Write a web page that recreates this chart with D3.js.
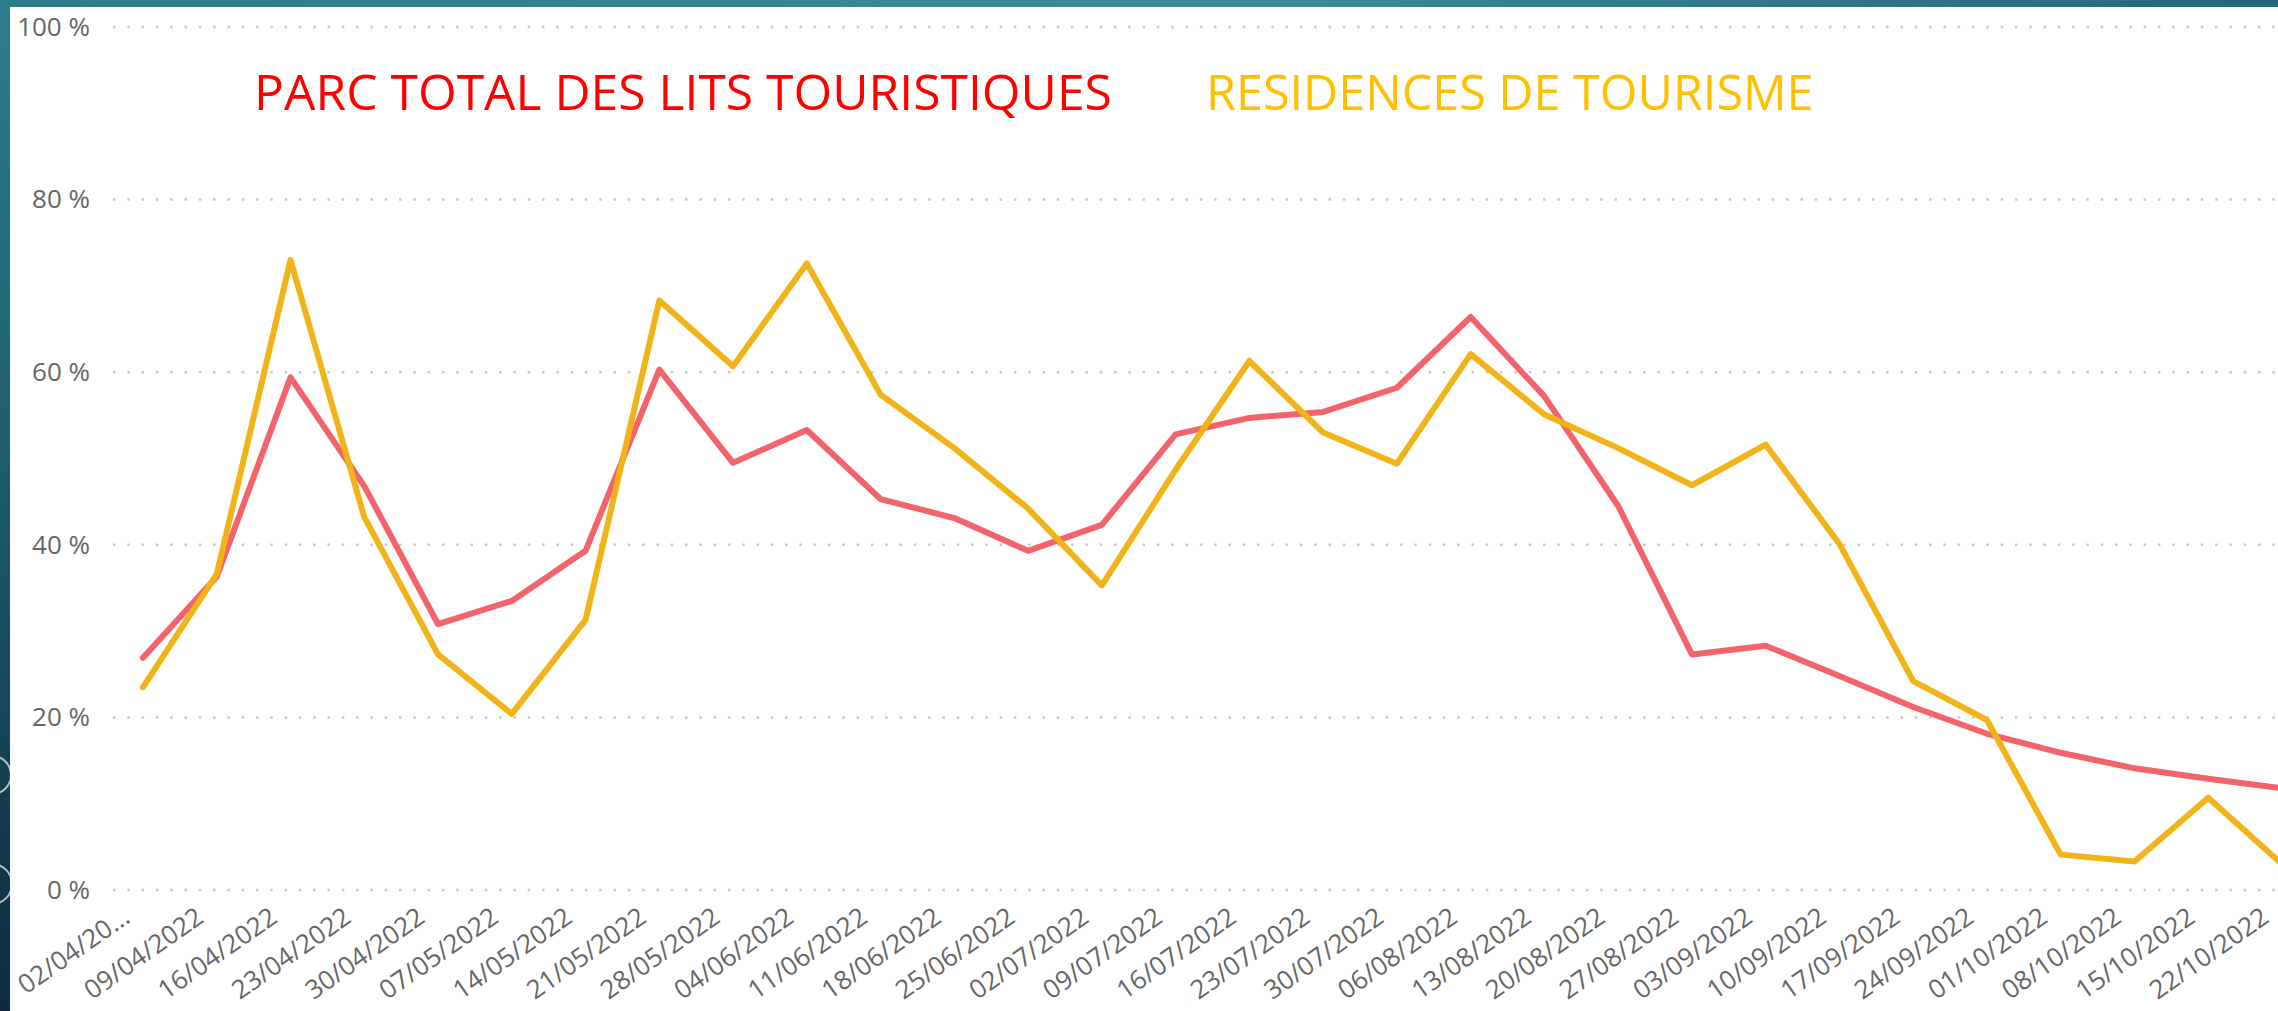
<!DOCTYPE html>
<html>
<head>
<meta charset="utf-8">
<script src="https://cdn.jsdelivr.net/npm/d3@7"></script>
<style>
  body { margin: 0; overflow: hidden; background: #fff; }
  text { font-family: "Open Sans", "Noto Sans", sans-serif; }
</style>
</head>
<body>
<script>
var dates = ["02/04/2022", "09/04/2022", "16/04/2022", "23/04/2022", "30/04/2022",
    "07/05/2022", "14/05/2022", "21/05/2022", "28/05/2022", "04/06/2022",
    "11/06/2022", "18/06/2022", "25/06/2022", "02/07/2022", "09/07/2022",
    "16/07/2022", "23/07/2022", "30/07/2022", "06/08/2022", "13/08/2022",
    "20/08/2022", "27/08/2022", "03/09/2022", "10/09/2022", "17/09/2022",
    "24/09/2022", "01/10/2022", "08/10/2022", "15/10/2022", "22/10/2022"];

// % of beds occupied
var parcTotal = [26.9, 36.3, 59.4, 46.8, 30.8, 33.5, 39.3, 60.3, 49.5, 53.3,
    45.3, 43.1, 39.3, 42.3, 52.8, 54.7, 55.4, 58.2, 66.4, 57.2,
    44.5, 27.3, 28.3, 24.8, 21.2, 18.1, 15.9, 14.1, 12.9, 11.8];

var residences = [23.5, 36.6, 73.0, 43.2, 27.3, 20.4, 31.3, 68.3, 60.7, 72.6,
    57.4, 51.2, 44.2, 35.3, 48.7, 61.3, 53.0, 49.4, 62.1, 55.1,
    51.2, 46.9, 51.6, 40.1, 24.2, 19.7, 4.1, 3.3, 10.7, 3.0];

var yTicks = [0, 20, 40, 60, 80, 100];

var seriesNames = ["PARC TOTAL DES LITS TOURISTIQUES", "RESIDENCES DE TOURISME"];

var width = 2278,
    height = 1011;

var svg = d3.select("body").append("svg")
    .attr("width", width)
    .attr("height", height);

// frame: teal strips on the left and top
var defs = svg.append("defs");
var gLeft = defs.append("linearGradient").attr("id", "gLeft")
    .attr("x1", 0).attr("y1", 0).attr("x2", 0).attr("y2", 1);
gLeft.append("stop").attr("offset", "0%").attr("stop-color", "#2b7f8b");
gLeft.append("stop").attr("offset", "45%").attr("stop-color", "#1d5e6c");
gLeft.append("stop").attr("offset", "100%").attr("stop-color", "#0e2a3e");
var gTop = defs.append("linearGradient").attr("id", "gTop")
    .attr("x1", 0).attr("y1", 0).attr("x2", 1).attr("y2", 0);
gTop.append("stop").attr("offset", "0%").attr("stop-color", "#2a7e8a");
gTop.append("stop").attr("offset", "55%").attr("stop-color", "#3a8b97");
gTop.append("stop").attr("offset", "100%").attr("stop-color", "#22687a");

svg.append("rect").attr("width", 10).attr("height", height).attr("fill", "url(#gLeft)");
svg.append("rect").attr("width", width).attr("height", 7).attr("fill", "url(#gTop)");
svg.append("circle").attr("cx", -8).attr("cy", 775).attr("r", 19)
    .attr("fill", "none").attr("stroke", "#b8bcc0").attr("stroke-width", 2);
svg.append("circle").attr("cx", -8).attr("cy", 884).attr("r", 20)
    .attr("fill", "none").attr("stroke", "#b8bcc0").attr("stroke-width", 2);
svg.append("rect").attr("x", 10).attr("y", 7)
    .attr("width", width - 10).attr("height", height - 7).attr("fill", "#fff");

var x = d3.scalePoint().domain(dates).range([143, 2282]);
var y = d3.scaleLinear().domain([0, 100]).range([890, 27]);

// grid
svg.append("g").selectAll("line")
    .data(yTicks)
    .enter().append("line")
    .attr("x1", 113).attr("x2", width)
    .attr("y1", function (d) { return y(d); })
    .attr("y2", function (d) { return y(d); })
    .style("stroke", "#c8c8c8")
    .style("stroke-width", 2.5)
    .style("stroke-dasharray", "2.5 11.8");

// y axis
var yAxis = svg.append("g")
    .attr("transform", "translate(90,0)")
    .call(d3.axisLeft(y).tickValues(yTicks).tickSize(0).tickPadding(0)
        .tickFormat(function (d) { return d + " %"; }));
yAxis.select(".domain").remove();
yAxis.selectAll("text")
    .attr("fill", "#666")
    .attr("font-size", 26)
    .attr("font-family", "Open Sans");

// x axis
var xAxis = svg.append("g")
    .attr("transform", "translate(0,921)")
    .call(d3.axisBottom(x).tickSize(0).tickPadding(0)
        .tickFormat(function (d, i) { return i === 0 ? d.slice(0, 8) + "..." : d; }));
xAxis.select(".domain").remove();
xAxis.selectAll("text")
    .attr("fill", "#666")
    .attr("font-size", 26)
    .attr("font-family", "Open Sans")
    .attr("text-anchor", "end")
    .attr("dy", 0)
    .attr("y", 0)
    .attr("transform", "translate(-12,0) rotate(-35)");

// lines
var line = d3.line()
    .x(function (d, i) { return x(dates[i]); })
    .y(function (d) { return y(d); });

svg.append("path")
    .datum(parcTotal)
    .attr("d", line)
    .attr("fill", "none")
    .attr("stroke", "#f3636b")
    .attr("stroke-width", 6)
    .attr("stroke-linejoin", "round")
    .attr("stroke-linecap", "round");

svg.append("path")
    .datum(residences)
    .attr("d", line)
    .attr("fill", "none")
    .attr("stroke", "#f2b318")
    .attr("stroke-width", 6)
    .attr("stroke-linejoin", "round")
    .attr("stroke-linecap", "round");

// legend-like titles
svg.append("text")
    .attr("x", 254).attr("y", 110)
    .attr("font-size", 49.8)
    .attr("fill", "#ff0000")
    .text(seriesNames[0]);

svg.append("text")
    .attr("x", 1206).attr("y", 110)
    .attr("font-size", 48.5)
    .attr("fill", "#ffc000")
    .text(seriesNames[1]);
</script>
</body>
</html>
